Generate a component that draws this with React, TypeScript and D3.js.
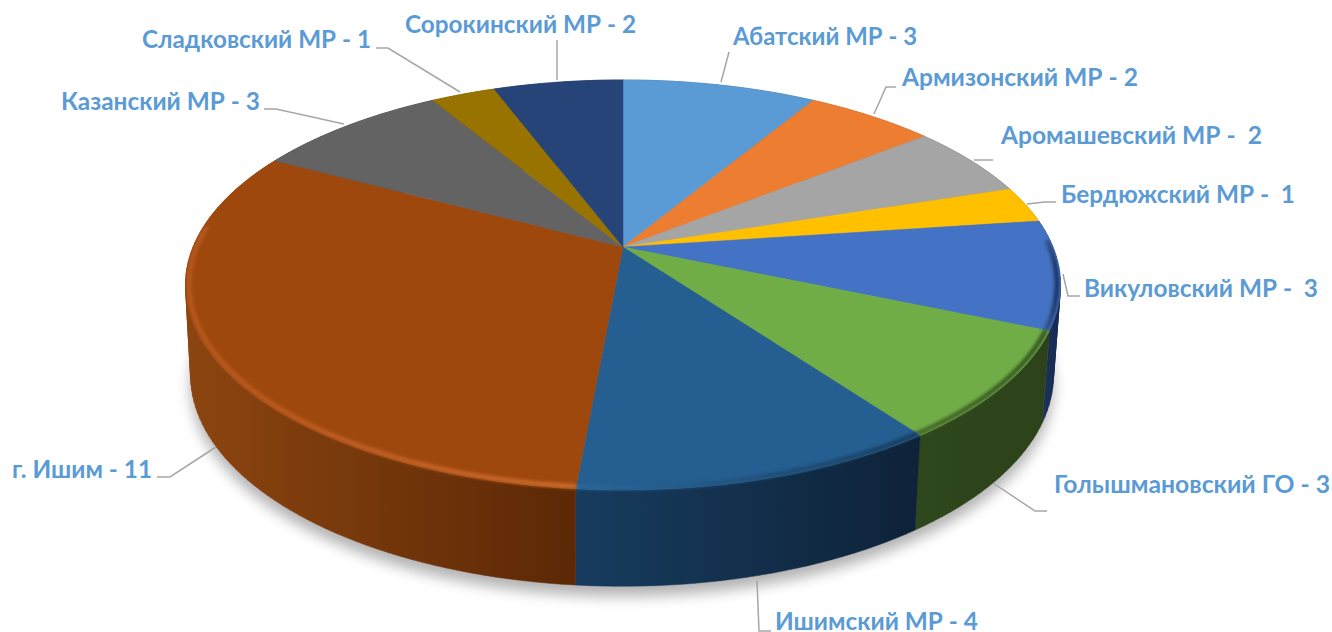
import * as d3 from 'd3';

const width = 1332;
const height = 632;

const categories = [
  'Абатский МР - 3',
  'Армизонский МР - 2',
  'Аромашевский МР -  2',
  'Бердюжский МР -  1',
  'Викуловский МР -  3',
  'Голышмановский ГО - 3',
  'Ишимский МР - 4',
  'г. Ишим - 11',
  'Казанский МР - 3',
  'Сладковский МР - 1',
  'Сорокинский МР - 2',
];
const values = [3, 2, 2, 1, 3, 3, 4, 11, 3, 1, 2];
const topColors = ['#5b9bd5', '#ed7d31', '#a5a5a5', '#ffc000', '#4472c4', '#70ad47', '#255e91', '#9e480e', '#636363', '#997300', '#264478'];
const sideStart = ['#3a6a94', '#a4551f', '#6e6e6e', '#a88000', '#1d3566', '#2f471c', '#173c5f', '#8c4510', '#404040', '#664c00', '#182c4e'];
const sideEnd = ['#3a6a94', '#a4551f', '#6e6e6e', '#a88000', '#17294f', '#2c421a', '#0e2238', '#5c2806', '#404040', '#664c00', '#182c4e'];
const bevelStart = ['none', 'none', 'none', 'none', '#35588f', '#456c2c', '#2a6699', '#b5561a', 'none', 'none', 'none'];
const bevelEnd = ['none', 'none', 'none', 'none', '#1c3463', '#385a22', '#173e60', '#c8682a', 'none', 'none', 'none'];

// label text anchors, widths and leader polylines, in page pixels
const labelPos: [number, number][] = [
  [733, 45], [902, 86], [1001, 144], [1061, 203], [1084, 297], [1054, 493],
  [775, 630], [12, 478], [61, 110], [142, 48], [405, 33],
];
const labelWidths = [184, 236, 261, 234, 234, 276, 203, 140, 199, 229, 231];
const leaders: [number, number][][] = [
  [[721, 82], [729, 52]],
  [[874, 114], [886, 87], [896, 87]],
  [[974, 160], [993, 160]],
  [[1027, 204], [1045, 202], [1056, 202]],
  [[1063, 274], [1068, 296], [1080, 296]],
  [[993, 483], [1035, 511], [1047, 511]],
  [[757, 581], [759, 631], [771, 631]],
  [[216, 447], [170, 477], [157, 477]],
  [[344, 124], [276, 109], [264, 109]],
  [[460, 92], [388, 48], [376, 48]],
  [[557, 80], [557, 40]],
];

const k = 0.185;
// perspective projection of a point on the unit disc; top face and base differ
const project = (cx: number, cy: number, rx: number, ry: number) => (a: number, r = 1): [number, number] => {
  const u = r * Math.sin(a);
  const v = r * Math.cos(a);
  const s = 1 / (1 + k * v);
  return [cx + rx * u * s, cy - ry * v * s];
};
const topPoint = project(623, 247, 430, 198);
const basePoint = project(622, 336, 424, 204);

const line = d3.line();
const toRad = Math.PI / 180;
const steps = (a0: number, a1: number) => {
  const n = Math.max(2, Math.ceil((a1 - a0) / (toRad * 1.5)));
  return d3.range(n + 1).map((i) => a0 + ((a1 - a0) * i) / n);
};
const arcPts = (fn: (a: number, r?: number) => [number, number], a0: number, a1: number, r = 1) =>
  steps(a0, a1).map((a) => fn(a, r));

// wall swept as small quads, so the silhouette between rim and base is filled.
// the hull keeps every quad wound the same way, otherwise they cancel at the sides
const wallPath = (a0: number, a1: number) =>
  d3
    .pairs(steps(a0, a1))
    .map(([p, q]) => line(d3.polygonHull([topPoint(p), topPoint(q), basePoint(q), basePoint(p)])!)! + 'Z')
    .join('');

const slices = d3
  .pie<number>()
  .sort(null)
  .startAngle(0)
  .endAngle(2 * Math.PI)(values);

const baseOutline = line(arcPts(basePoint, 0, 2 * Math.PI))! + 'Z';
const topOutline = line(arcPts(topPoint, 0, 2 * Math.PI))! + 'Z';

export default function App() {
  return (
    <svg width={width} height={height} style={{ position: 'fixed', left: 0, top: 0, background: '#fff' }}>
      <defs>
        <filter id="shadowBlur" x="-10%" y="-10%" width="120%" height="120%">
          <feGaussianBlur stdDeviation="7" />
        </filter>
        <filter id="bevelBlur" x="0" y="0" width={width} height={height} filterUnits="userSpaceOnUse">
          <feGaussianBlur stdDeviation="1.6" />
        </filter>
        <clipPath id="pieClip">
          <path d={topOutline} />
          <path d={wallPath(80 * toRad, 290 * toRad)} />
        </clipPath>
        {slices.map((s, i) => (
          <linearGradient key={i} id={`side${i}`} x1="0" x2="1" y1="0" y2="0">
            <stop offset="0" stopColor={sideStart[i]} />
            <stop offset="1" stopColor={sideEnd[i]} />
          </linearGradient>
        ))}
        {slices.map((s, i) =>
          bevelStart[i] === 'none' ? null : (
            <linearGradient key={i} id={`bevel${i}`} x1="0" x2="1" y1="0" y2="0">
              <stop offset="0" stopColor={bevelStart[i]} />
              <stop offset="1" stopColor={bevelEnd[i]} />
            </linearGradient>
          )
        )}
      </defs>

      <path d={baseOutline} transform="translate(0,10)" fill="#000" opacity={0.3} filter="url(#shadowBlur)" />

      {/* outer wall */}
      {slices.map((s, i) => (
        <path key={i} d={wallPath(s.startAngle, s.endAngle)} fill={`url(#side${i})`} stroke={`url(#side${i})`} strokeWidth={0.5} />
      ))}

      {/* top face */}
      {slices.map((s, i) => {
        const pts = [topPoint(0, 0), ...arcPts(topPoint, s.startAngle, s.endAngle)];
        return <path key={i} d={line(pts)! + 'Z'} fill={topColors[i]} stroke={topColors[i]} strokeWidth={0.5} />;
      })}

      {/* rim highlight on the front part of the top edge */}
      <g clipPath="url(#pieClip)">
        {slices.map((s, i) => {
          if (bevelStart[i] === 'none') return null;
          const a0 = Math.max(s.startAngle, 88 * toRad);
          const a1 = Math.min(s.endAngle, 276 * toRad);
          return (
            <path
              key={i}
              d={line(arcPts(topPoint, a0, a1, 0.992))!}
              fill="none"
              stroke={`url(#bevel${i})`}
              strokeWidth={5}
              filter="url(#bevelBlur)"
            />
          );
        })}
      </g>

      {leaders.map((pts, i) => (
        <path key={i} d={line(pts)!} fill="none" stroke="#a6a6a6" strokeWidth={1.5} />
      ))}

      {categories.map((c, i) => (
        <text
          key={i}
          x={labelPos[i][0]}
          y={labelPos[i][1]}
          fill="#5b9bd5"
          fontFamily="Lato, 'Open Sans', sans-serif"
          fontWeight={700}
          fontSize={24.5}
          textLength={labelWidths[i]}
          lengthAdjust="spacingAndGlyphs"
          style={{ whiteSpace: 'pre' }}
        >
          {c}
        </text>
      ))}
    </svg>
  );
}
